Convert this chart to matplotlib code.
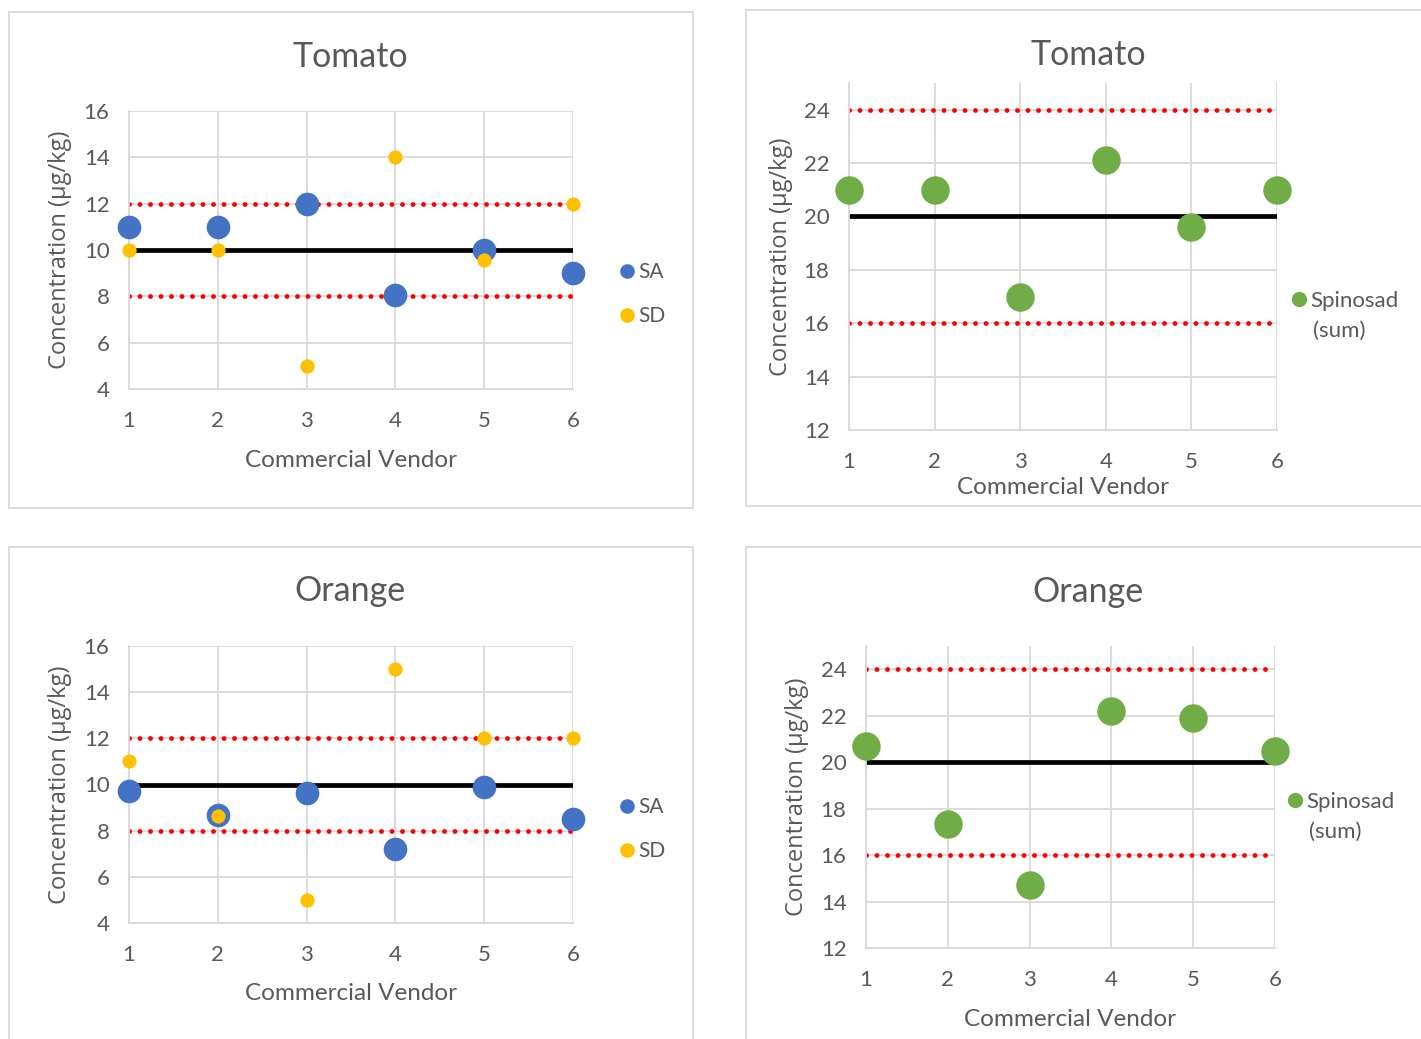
import numpy as np
import matplotlib
matplotlib.use("Agg")
import matplotlib.pyplot as plt
from matplotlib.lines import Line2D
from matplotlib.patches import Rectangle

# ── Data ───────────────────────────────────────────────────────────
vendors = [1, 2, 3, 4, 5, 6]

tomato_sa = [11.0, 11.0, 12.0, 8.07, 10.0, 9.0]
tomato_sd = [10.0, 10.0, 5.0, 14.0, 9.58, 12.0]
orange_sa = [9.70, 8.69, 9.65, 7.19, 9.91, 8.50]
orange_sd = [11.0, 8.63, 5.0, 15.0, 12.0, 12.0]

tomato_spinosad = [21.0, 21.0, 17.0, 22.1, 19.6, 21.0]
orange_spinosad = [20.7, 17.35, 14.7, 22.2, 21.9, 20.5]

sa_target, sa_band = 10, (8, 12)
sum_target, sum_band = 20, (16, 24)

# ── Style ──────────────────────────────────────────────────────────
W, H = 1421, 1039
TXT = '#595959'
GRID = '#D9D9D9'
BLUE = '#4472C4'
YELLOW = '#FFC000'
GREEN = '#70AD47'
RED = '#FF0000'
FONT = 'Lato'
YFONT = 'Open Sans'

plt.rcParams['font.family'] = [FONT, 'DejaVu Sans']

fig = plt.figure(figsize=(W / 100, H / 100), dpi=100)


def px_axes(x0, x1, y0, y1):
    """axes from pixel box (left, right, top, bottom) of the reference"""
    return fig.add_axes([x0 / W, 1 - y1 / H, (x1 - x0) / W, (y1 - y0) / H])


def frame(x0, y0, x1, y1):
    fig.patches.append(Rectangle((x0 / W, 1 - y1 / H), (x1 - x0) / W, (y1 - y0) / H,
                                 transform=fig.transFigure, fill=False,
                                 edgecolor=GRID, lw=1.3))


def style(ax, box, ylim, yticks, title_xy, xlab_y, ylab_x):
    x0, x1, y0, y1 = box
    ax.set_xlim(1, 6)
    ax.set_ylim(*ylim)
    ax.set_xticks(vendors)
    ax.set_yticks(yticks)
    ax.grid(True, color=GRID, lw=1.3)
    ax.set_axisbelow(True)
    for s in ['top', 'right']:
        ax.spines[s].set_visible(False)
    for s in ['left', 'bottom']:
        ax.spines[s].set_color(GRID)
        ax.spines[s].set_linewidth(1.3)
    ax.tick_params(length=0, labelsize=16, colors=TXT, pad=14)
    ax.tick_params(axis='x', pad=16)

    def ax_x(px):
        return (px - x0) / (x1 - x0)

    def ax_y(py):
        return (y1 - py) / (y1 - y0)

    ax.set_xlabel('Commercial Vendor', fontsize=17.5, color=TXT)
    ax.xaxis.set_label_coords(0.5, ax_y(xlab_y))
    ax.xaxis.label.set_va('center')
    ax.set_ylabel('Concentration (μg/kg)', fontsize=17, color=TXT, family=YFONT)
    ax.yaxis.set_label_coords(ax_x(ylab_x), 0.5)
    ax.yaxis.label.set_va('center')
    ax.text(ax_x(title_xy[0]), ax_y(title_xy[1]), ax.get_label(), transform=ax.transAxes,
            ha='center', va='center', fontsize=24.5, color=TXT)


def ref_lines(ax, target, band):
    ax.plot([1, 6], [target, target], color='black', lw=3.4, zorder=2)
    for b in band:
        ax.plot([1, 5.98], [b, b], color=RED, lw=3.5, linestyle=(0, (0.01, 2.15)),
                dash_capstyle='round', zorder=2)


def sa_sd_panel(box, sa, sd, title, title_xy, xlab_y, ylab_x, leg_xy):
    ax = px_axes(*box)
    ax.set_label(title)
    ref_lines(ax, sa_target, sa_band)
    ax.scatter(vendors, sa, s=290, color=BLUE, zorder=3, clip_on=False, linewidths=0)
    ax.scatter(vendors, sd, s=105, color=YELLOW, zorder=4, clip_on=False, linewidths=0)
    style(ax, box, (4, 16), np.arange(4, 17, 2), title_xy, xlab_y, ylab_x)
    handles = [Line2D([], [], ls='none', marker='o', ms=10.5, color=BLUE, mew=0),
               Line2D([], [], ls='none', marker='o', ms=10.5, color=YELLOW, mew=0)]
    fig.legend(handles, ['SA', 'SD'], loc='center left',
               bbox_to_anchor=(leg_xy[0] / W, 1 - leg_xy[1] / H),
               frameon=False, fontsize=15, labelcolor=TXT, handlelength=0.6,
               handletextpad=0.25, labelspacing=1.15, borderpad=0, borderaxespad=0)
    return ax


def sum_panel(box, vals, title, title_xy, xlab_y, ylab_x, leg_xy):
    ax = px_axes(*box)
    ax.set_label(title)
    ref_lines(ax, sum_target, sum_band)
    ax.scatter(vendors, vals, s=420, color=GREEN, zorder=3, clip_on=False, linewidths=0)
    style(ax, box, (12, 25), np.arange(12, 25, 2), title_xy, xlab_y, ylab_x)
    handles = [Line2D([], [], ls='none', marker='o', ms=11, color=GREEN, mew=0)]
    fig.legend(handles, ['Spinosad'], loc='center left',
               bbox_to_anchor=(leg_xy[0] / W, 1 - leg_xy[1] / H),
               frameon=False, fontsize=16, labelcolor=TXT, handlelength=0.55,
               handletextpad=0.25, borderpad=0, borderaxespad=0)
    fig.text((leg_xy[0] + 20) / W, 1 - (leg_xy[1] + 30) / H, '(sum)',
             ha='left', va='center', fontsize=16, color=TXT)
    return ax


# ── Panels ─────────────────────────────────────────────────────────
frame(9, 12, 693, 508)
frame(746, 10, 1430, 506)
frame(9, 547, 693, 1050)
frame(746, 547, 1430, 1050)

sa_sd_panel((129, 573, 111, 389), tomato_sa, tomato_sd, 'Tomato',
            (350, 57), 460, 60, (621, 294))
sum_panel((849, 1277, 83, 430), tomato_spinosad, 'Tomato',
          (1088, 55), 487, 781, (1293, 301))
sa_sd_panel((129, 573, 646, 923), orange_sa, orange_sd, 'Orange',
            (350, 591), 994, 60, (621, 829))
sum_panel((866, 1275, 646, 948), orange_spinosad, 'Orange',
          (1088, 592), 1019, 797, (1289, 802))

fig.savefig('out.png', dpi=100)
